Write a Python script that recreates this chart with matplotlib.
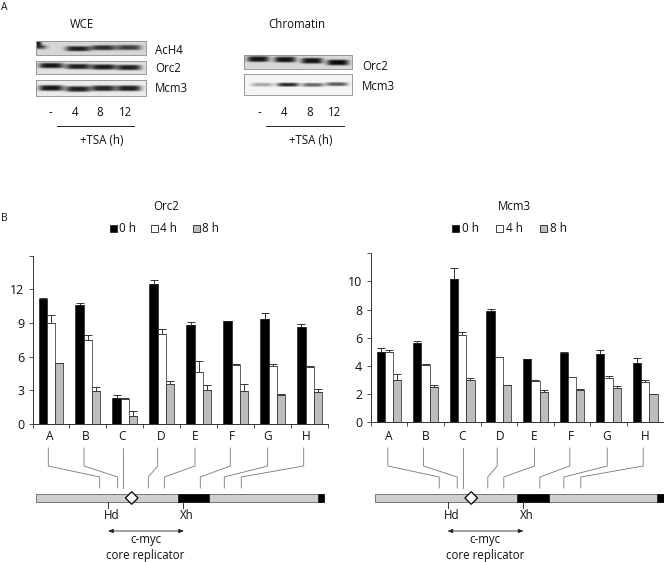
import numpy as np
import matplotlib
matplotlib.use("Agg")
import matplotlib.pyplot as plt
from matplotlib.patches import Rectangle, Polygon

plt.rcParams["font.family"] = ["Open Sans", "DejaVu Sans"]
W, H = 664, 562
FS = 8.3
DARK = "#111111"

sites = ["A", "B", "C", "D", "E", "F", "G", "H"]

orc2_0h = [11.15, 10.65, 2.3, 12.5, 8.85, 9.15, 9.35, 8.65]
orc2_4h = [9.03, 7.45, 2.2, 8.0, 4.6, 5.26, 5.17, 5.08]
orc2_8h = [5.4, 2.94, 0.68, 3.53, 3.0, 2.9, 2.58, 2.85]
orc2_0h_err = [0.12, 0.15, 0.25, 0.33, 0.2, 0.05, 0.5, 0.25]
orc2_4h_err = [0.7, 0.48, 0.08, 0.45, 1.0, 0.05, 0.15, 0.07]
orc2_8h_err = [0.0, 0.33, 0.45, 0.3, 0.5, 0.65, 0.08, 0.25]

mcm3_0h = [4.95, 5.62, 10.17, 7.89, 4.45, 4.93, 4.81, 4.19]
mcm3_4h = [4.95, 4.05, 6.16, 4.6, 2.94, 3.18, 3.13, 2.82]
mcm3_8h = [2.96, 2.46, 2.96, 2.6, 2.13, 2.3, 2.39, 2.0]
mcm3_0h_err = [0.3, 0.12, 0.75, 0.17, 0.05, 0.07, 0.28, 0.38]
mcm3_4h_err = [0.14, 0.05, 0.21, 0.0, 0.03, 0.03, 0.12, 0.14]
mcm3_8h_err = [0.42, 0.2, 0.2, 0.02, 0.17, 0.07, 0.15, 0.0]

lane_labels = ["-", "4", "8", "12"]
# band strength per lane
ach4_bands = [0.0, 0.72, 0.66, 0.6]
wce_orc2_bands = [0.8, 0.76, 0.78, 0.76]
wce_mcm3_bands = [0.84, 0.8, 0.78, 0.8]
chr_orc2_bands = [0.78, 0.78, 0.78, 0.82]
chr_mcm3_bands = [0.3, 0.8, 0.55, 0.6]

# schematic: (label x, bend x) in zoomed-out pixels from the left of a panel
link_top = [48.3, 84, 123.3, 157.7, 195, 230.3, 267.7, 303.7]
link_bottom = [99.7, 117.7, 123.3, 148.3, 164.3, 200.3, 224.3, 241.3]
label_x = [49.3, 86, 122.3, 161, 194.7, 231.7, 267.3, 306]


def px(x0, y0, x1, y1):
    return [x0 / W, 1 - y1 / H, (x1 - x0) / W, (y1 - y0) / H]


def draw_blot(ax, x0, y0, x1, y1, strengths, lanes, band_y, thick, bg, half=12.5):
    xs = np.linspace(x0, x1, 220)
    ys = np.linspace(y0, y1, 60)
    xx, yy = np.meshgrid(xs, ys)
    img = np.full(xx.shape, bg, dtype=float)
    for c, s, by in zip(lanes, strengths, band_y):
        img -= s * np.exp(-((xx - c) / half) ** 4) * np.exp(-((yy - by) / thick) ** 4)
    ax.imshow(np.clip(img, 0, 1), extent=(x0, x1, y1, y0), cmap="gray", vmin=0, vmax=1,
              aspect="auto", interpolation="bilinear", zorder=1)
    ax.add_patch(Rectangle((x0, y0), x1 - x0, y1 - y0, fill=False, ec="#8a8a8a", lw=0.6, zorder=2))


def draw_bars(rect, ylim, yticks, series, errors):
    ax = fig.add_axes(rect)
    pos = np.arange(len(sites)) + 0.5
    width = 0.225
    colors = ["black", "white", "#bdbdbd"]
    for k in range(3):
        x = pos + (k - 1) * width
        ax.bar(x, series[k], width, color=colors[k], edgecolor="#222222", linewidth=0.5, zorder=3)
        ax.errorbar(x, series[k], yerr=[np.zeros(8), errors[k]], fmt="none", ecolor="#333333",
                    elinewidth=0.7, capsize=2.6, capthick=0.7, zorder=2)
    ax.set_xlim(0, 8)
    ax.set_ylim(*ylim)
    ax.set_xticks(range(9))
    ax.set_xticklabels([])
    ax.set_yticks(yticks)
    ax.set_yticklabels([str(t) if t != ylim[1] else "" for t in yticks], fontsize=FS + 0.7, color=DARK)
    ax.tick_params(length=3, width=0.6, color="#333333", pad=3)
    ax.spines[["top", "right"]].set_visible(False)
    ax.spines[["left", "bottom"]].set_linewidth(0.7)
    ax.spines[["left", "bottom"]].set_color("#333333")
    ax.patch.set_alpha(0)
    return ax


def draw_legend(ax, title, title_x, swatch_x, text_x):
    ax.text(title_x, 206, title, ha="center", va="center", fontsize=FS, color=DARK)
    colors = ["black", "white", "#bdbdbd"]
    for x, tx, c, lab in zip(swatch_x, text_x, colors, ["0 h", "4 h", "8 h"]):
        ax.add_patch(Rectangle((x, 225), 7, 7, fc=c, ec="#222222", lw=0.6))
        ax.text(tx, 228.5, lab, ha="left", va="center", fontsize=FS + 0.2, color=DARK)


def draw_map(ax, dx):
    for i, lab in enumerate(sites):
        ax.text(label_x[i] + dx, 436, lab, ha="center", va="center", fontsize=FS + 0.3, color=DARK)
        xt, xb = link_top[i] + dx, link_bottom[i] + dx
        ax.plot([xt, xt, xb, xb], [448, 466, 477, 488], color="#777777", lw=0.6, zorder=2)
    ax.add_patch(Rectangle((35.7 + dx, 494.3), 288.3, 8, fc="#cfcfcf", ec="#666666", lw=0.6))
    ax.add_patch(Rectangle((177.7 + dx, 494.3), 31.3, 8, fc="black", ec="black", lw=0.4))
    ax.add_patch(Rectangle((317.7 + dx, 494.3), 6.3, 8, fc="black", ec="black", lw=0.4))
    cx, cy = 131.7 + dx, 498
    ax.add_patch(Polygon([(cx - 6.3, cy), (cx, cy - 6.3), (cx + 6.3, cy), (cx, cy + 6.3)],
                         fc="white", ec="black", lw=0.9, zorder=4))
    ax.plot([108.3 + dx] * 2, [502, 508], color="#333333", lw=0.7)
    ax.plot([183.3 + dx] * 2, [502, 508], color="#333333", lw=0.7)
    ax.text(112 + dx, 515.5, "Hd", ha="center", va="center", fontsize=FS, color=DARK)
    ax.text(187.3 + dx, 515.5, "Xh", ha="center", va="center", fontsize=FS, color=DARK)
    ax.annotate("", xy=(108 + dx, 531), xytext=(184 + dx, 531),
                arrowprops=dict(arrowstyle="<|-|>,head_length=0.3,head_width=0.12", color="#222222",
                                lw=0.6, shrinkA=0, shrinkB=0))
    ax.text(145.5 + dx, 540, "c-myc", ha="center", va="center", fontsize=FS, color=DARK)
    ax.text(145.5 + dx, 555, "core replicator", ha="center", va="center", fontsize=FS, color=DARK)


fig = plt.figure(figsize=(W / 100, H / 100), dpi=100)

draw_bars(px(32.5, 255.7, 328.3, 424), (0, 15), [0, 3, 6, 9, 12, 15],
          [orc2_0h, orc2_4h, orc2_8h], [orc2_0h_err, orc2_4h_err, orc2_8h_err])
draw_bars(px(370.7, 253.3, 663.5, 422), (0, 12), [0, 2, 4, 6, 8, 10, 12],
          [mcm3_0h, mcm3_4h, mcm3_8h], [mcm3_0h_err, mcm3_4h_err, mcm3_8h_err])

over = fig.add_axes([0, 0, 1, 1], zorder=5)
over.patch.set_alpha(0)

wce_lanes = [51, 78, 103.5, 129]
draw_blot(over, 36, 41, 146, 55, ach4_bands, wce_lanes, [48, 48.7, 47.7, 47.5], 2.6, 0.84)
# smear at the left end of the first AcH4 lane
over.imshow(np.array([[0.12, 0.84, 0.84], [0.15, 0.3, 0.72], [0.84, 0.84, 0.84]]),
            extent=(37, 50, 52, 42), cmap="gray", vmin=0, vmax=1,
            aspect="auto", interpolation="bilinear", zorder=1.5)
draw_blot(over, 36, 61, 146, 74, wce_orc2_bands, wce_lanes, [65.5, 66.5, 67, 67.5], 2.7, 0.88)
draw_blot(over, 36, 80, 146, 96, wce_mcm3_bands, wce_lanes, [88, 89, 88.3, 88.3], 2.9, 0.92)
draw_blot(over, 244, 55, 352, 69, chr_orc2_bands, [258, 285, 312, 338], [59, 59.5, 60.7, 62.5], 2.9, 0.85, half=11)
draw_blot(over, 244, 74, 352, 94.7, chr_mcm3_bands, [262, 288, 313, 337], [84.5, 84.5, 84.7, 84], 1.9, 0.96, half=11)

over.text(1, 8, "A", ha="left", va="center", fontsize=FS - 0.8, color=DARK)
over.text(1, 218.5, "B", ha="left", va="center", fontsize=FS - 0.8, color=DARK)
over.text(82, 24, "WCE", ha="center", va="center", fontsize=FS, color=DARK)
over.text(297, 24, "Chromatin", ha="center", va="center", fontsize=FS, color=DARK)

for x, y, lab in [(155, 50, "AcH4"), (155, 68.5, "Orc2"), (155, 88.5, "Mcm3"),
                  (362, 66.5, "Orc2"), (362, 87, "Mcm3")]:
    over.text(x, y, lab, ha="left", va="center", fontsize=FS, color=DARK)

for xs, x0, x1, xc in [([50, 75, 100, 125.5], 57, 134, 101.7), ([259, 284, 309.5, 335], 266, 344, 311)]:
    for x, lab in zip(xs, lane_labels):
        over.text(x, 113, lab, ha="center", va="center", fontsize=FS, color=DARK)
    over.plot([x0, x1], [125.5, 125.5], color="#222222", lw=0.7)
    over.text(xc, 141, "+TSA (h)", ha="center", va="center", fontsize=FS, color=DARK)

draw_legend(over, "Orc2", 166, [109.5, 150.7, 192.7], [119, 160, 202])
draw_legend(over, "Mcm3", 514.3, [452, 496, 539.5], [462, 506, 549.5])

draw_map(over, 0)
draw_map(over, 339.5)

over.set_xlim(0, W)
over.set_ylim(H, 0)
over.axis("off")

fig.savefig("out.png", dpi=100)
